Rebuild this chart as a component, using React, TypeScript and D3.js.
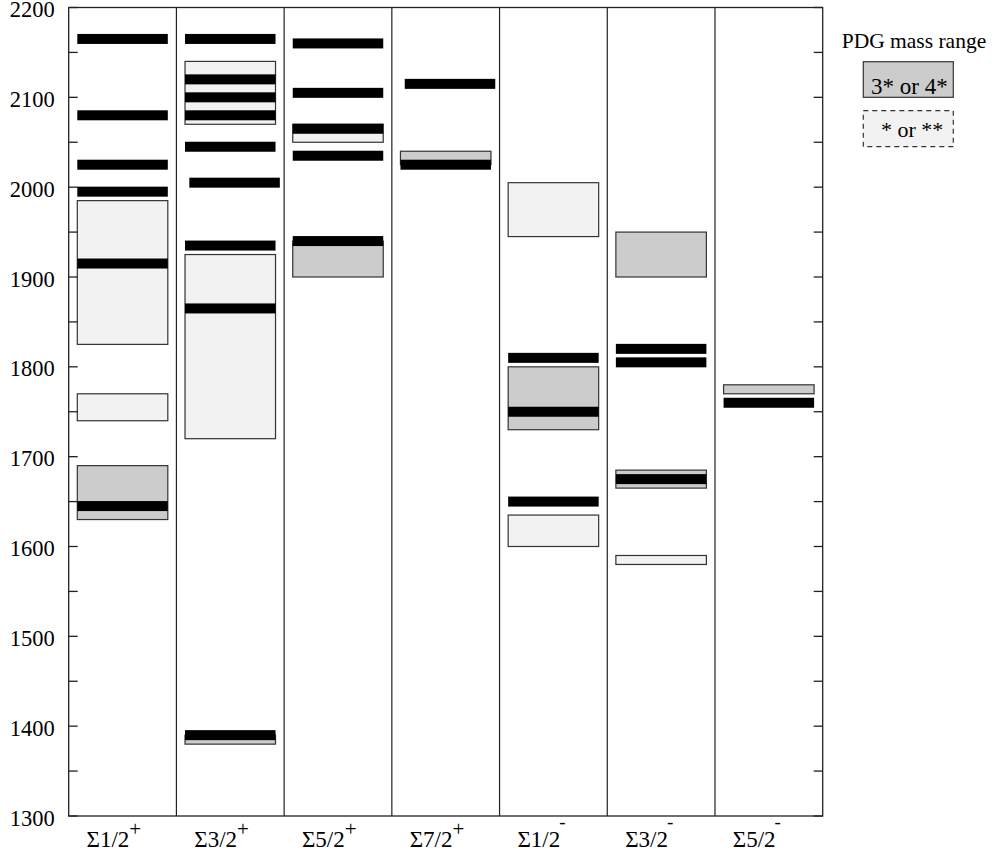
import React from "react";
import * as d3 from "d3";

// Σ baryon spin-parity channels (one column each)
const spins = ["1/2", "3/2", "5/2", "7/2", "1/2", "3/2", "5/2"];
const parities = ["+", "+", "+", "+", "-", "-", "-"];

// PDG mass ranges [column, low MeV, high MeV, rating] — "strong" = 3* or 4*, "weak" = * or **
const pdgRanges: [number, number, number, string][] = [
  [0, 1630, 1690, "strong"],
  [0, 1740, 1770, "weak"],
  [0, 1825, 1985, "weak"],
  [1, 1380, 1390, "strong"],
  [1, 1720, 1925, "weak"],
  [1, 2070, 2140, "weak"],
  [2, 1900, 1940, "strong"],
  [2, 2050, 2070, "weak"],
  [3, 2025, 2040, "strong"],
  [4, 1600, 1635, "weak"],
  [4, 1730, 1800, "strong"],
  [4, 1945, 2005, "weak"],
  [5, 1580, 1590, "weak"],
  [5, 1665, 1685, "strong"],
  [5, 1900, 1950, "strong"],
  [6, 1770, 1780, "strong"],
];

// Model states [column, mass MeV]
const modelStates: [number, number][] = [
  [0, 1645], [0, 1915], [0, 1995], [0, 2025], [0, 2080], [0, 2165],
  [1, 1390], [1, 1865], [1, 1935], [1, 2045], [1, 2080], [1, 2100], [1, 2120], [1, 2165],
  [2, 1940], [2, 2035], [2, 2065], [2, 2105], [2, 2160],
  [3, 2025],
  [4, 1650], [4, 1750], [4, 1810],
  [5, 1675], [5, 1805], [5, 1820],
  [6, 1760],
];

// Nearly degenerate states drawn slightly offset to the right
const offsetStates: [number, number][] = [
  [1, 2005],
  [3, 2115],
];

const yTicks = d3.range(1300, 2201, 50);

const W = 995;
const H = 854;
const left = 68.7;
const right = 822.7;
const top = 7.5;
const bottom = 816;
const font = "'Liberation Serif', 'Times New Roman', serif";

export default function App() {
  const y = d3.scaleLinear().domain([1300, 2200]).range([bottom, top]);
  const x = d3.scaleBand<number>().domain(d3.range(spins.length)).range([left, right]);
  const bw = x.bandwidth();
  const inset = 8.6;
  const barH = 10;
  const stroke = "#333";

  return (
    <div style={{ position: "absolute", left: 0, top: 0 }}>
      <svg width={W} height={H} style={{ display: "block", background: "#fff" }}>
        {/* PDG ranges */}
        {pdgRanges.map(([c, lo, hi, r], i) => (
          <rect
            key={"r" + i}
            x={(x(c) as number) + inset}
            y={y(hi)}
            width={bw - 2 * inset}
            height={y(lo) - y(hi)}
            fill={r === "strong" ? "#cccccc" : "#f2f2f2"}
            stroke={stroke}
            strokeWidth={1.2}
          />
        ))}
        {/* model states */}
        {modelStates.map(([c, m], i) => (
          <rect
            key={"m" + i}
            x={(x(c) as number) + inset}
            y={y(m) - barH / 2}
            width={bw - 2 * inset}
            height={barH}
            fill="#000"
          />
        ))}
        {offsetStates.map(([c, m], i) => (
          <rect
            key={"o" + i}
            x={(x(c) as number) + inset + 4.3}
            y={y(m) - barH / 2}
            width={bw - 2 * inset}
            height={barH}
            fill="#000"
          />
        ))}
        {/* column dividers */}
        {d3.range(1, spins.length).map((c) => (
          <line
            key={"d" + c}
            x1={x(c) as number}
            x2={x(c) as number}
            y1={top}
            y2={bottom}
            stroke="#222"
            strokeWidth={1.2}
          />
        ))}
        {/* frame */}
        <rect x={left} y={top} width={right - left} height={bottom - top} fill="none" stroke="#222" strokeWidth={1.3} />
        {/* y ticks */}
        {yTicks.map((t) => (
          <g key={"t" + t}>
            <line x1={left} x2={left + 9} y1={y(t)} y2={y(t)} stroke="#222" strokeWidth={1.3} />
            <line x1={right - 9} x2={right} y1={y(t)} y2={y(t)} stroke="#222" strokeWidth={1.3} />
            {t % 100 === 0 && (
              <text
                x={left - 14}
                y={y(t) + 9.5}
                textAnchor="end"
                fontFamily={font}
                fontSize={22.5}
                fill="#000"
              >
                {t}
              </text>
            )}
          </g>
        ))}
        {/* column labels */}
        {spins.map((s, c) => (
          <text
            key={"l" + c}
            x={(x(c) as number) + bw / 2 - 36}
            y={847}
            fontFamily={font}
            fontSize={23}
            fill="#000"
          >
            {"Σ" + s}
            <tspan dy={parities[c] === "+" ? -11 : -19} dx={parities[c] === "+" ? 0 : -1} fontSize={parities[c] === "+" ? 21 : 19}>
              {parities[c]}
            </tspan>
          </text>
        ))}
        {/* legend */}
        <text x={841.7} y={47.5} fontFamily={font} fontSize={21.5} fill="#000">
          PDG mass range
        </text>
        <rect x={863.3} y={61.7} width={90} height={35.6} fill="#cccccc" stroke={stroke} strokeWidth={1.2} />
        <text x={871} y={93.5} fontFamily={font} fontSize={23} fill="#000">
          3* or 4*
        </text>
        <rect
          x={863.3}
          y={110.7}
          width={90}
          height={36}
          fill="#f2f2f2"
          stroke={stroke}
          strokeWidth={1.2}
          strokeDasharray="5,4"
        />
        <text x={881} y={136.5} fontFamily={font} fontSize={22} fill="#000">
          * or **
        </text>
      </svg>
    </div>
  );
}
